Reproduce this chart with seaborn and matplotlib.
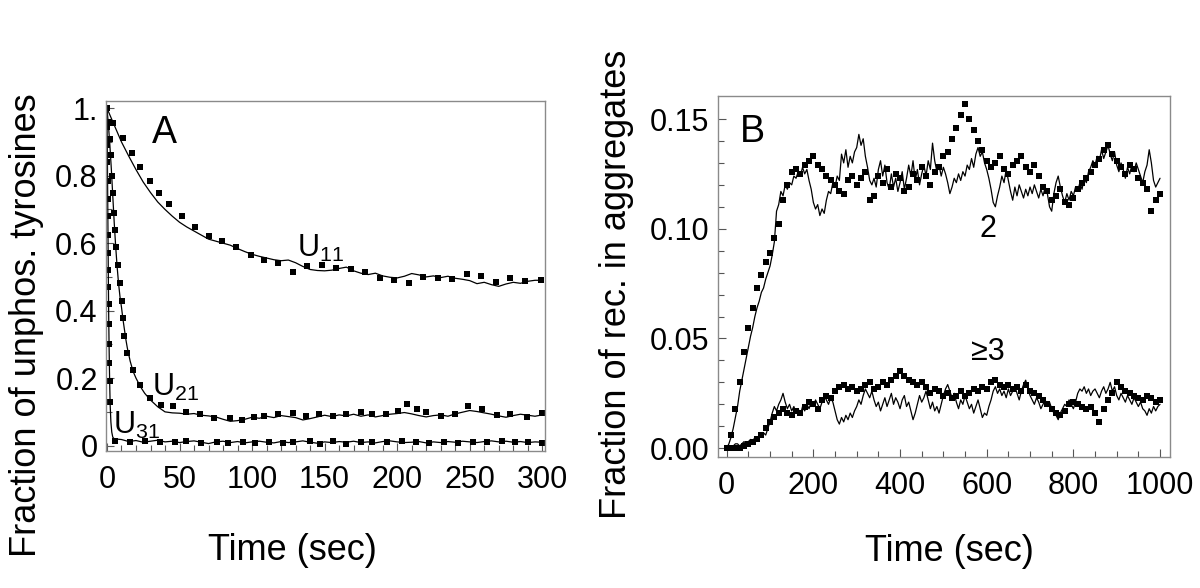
import numpy as np
import pandas as pd
import matplotlib.pyplot as plt
import seaborn as sns

# ---- panel A: fraction of unphosphorylated tyrosines ----
u11_line_t = list(range(0, 301, 5))
u11_line = [1.000, 0.950, 0.900, 0.858, 0.818, 0.781, 0.750, 0.722, 0.700, 0.680,
            0.662, 0.648, 0.636, 0.624, 0.612, 0.606, 0.600, 0.594, 0.584, 0.575,
            0.567, 0.561, 0.556, 0.551, 0.548, 0.550, 0.542, 0.531, 0.522, 0.519,
            0.518, 0.520, 0.525, 0.529, 0.518, 0.511, 0.507, 0.511, 0.503, 0.499,
            0.497, 0.502, 0.510, 0.506, 0.500, 0.503, 0.498, 0.502, 0.496, 0.493,
            0.489, 0.480, 0.484, 0.477, 0.472, 0.479, 0.484, 0.481, 0.487, 0.490,
            0.490]
u11_dot_t = [0, 4.4, 10.8, 17, 23, 29.6, 36, 43, 52, 61, 70, 79, 89, 99, 108, 118, 128,
             138, 148, 158, 168, 178, 188, 198, 208, 218, 228, 238, 248, 258, 268, 278, 288, 299]
u11_dot = [1.0, 0.957, 0.913, 0.868, 0.826, 0.783, 0.75, 0.715, 0.68, 0.648,
           0.622, 0.605, 0.59, 0.565, 0.55, 0.54, 0.515, 0.532, 0.535, 0.525,
           0.522, 0.515, 0.497, 0.492, 0.482, 0.500, 0.497, 0.495, 0.510, 0.503,
           0.485, 0.496, 0.488, 0.490]

u21_line_t = [0, 1, 2, 3, 4, 5, 6, 7, 8, 9, 10, 11, 12, 13, 14, 16, 18, 20, 23, 26, 30, 35] \
    + list(range(40, 301, 5))
u21_line = [1.0, 0.95, 0.89, 0.82, 0.74, 0.66, 0.59, 0.53, 0.48, 0.44, 0.41, 0.375,
            0.345, 0.315, 0.29, 0.25, 0.22, 0.20, 0.175, 0.155, 0.135, 0.115,
            0.100, 0.097, 0.096, 0.093, 0.095, 0.090, 0.088, 0.085, 0.078, 0.072,
            0.074, 0.078, 0.084, 0.081, 0.087, 0.083, 0.089, 0.086, 0.083, 0.076,
            0.080, 0.085, 0.090, 0.086, 0.091, 0.088, 0.093, 0.087, 0.091, 0.085,
            0.089, 0.093, 0.095, 0.098, 0.094, 0.089, 0.085, 0.089, 0.091, 0.087,
            0.094, 0.099, 0.104, 0.101, 0.097, 0.093, 0.088, 0.084, 0.089, 0.093,
            0.090, 0.087, 0.091]
u21_dot_t = [0, 1.1, 2.1, 2.8, 3.6, 4.4, 5.0, 5.6, 6.5, 7.6, 8.9, 10.1, 10.8, 11.7, 13.5,
             18, 22.7, 29.6, 37.5, 45.6, 54.8, 64, 74, 85, 93, 101, 108, 118, 128, 137,
             146, 156, 165, 175, 183, 192, 200.5, 207, 213.6, 220, 230, 240, 249, 258.6,
             268.6, 278, 289.5, 300]
u21_dot = [1.0, 0.96, 0.91, 0.86, 0.80, 0.75, 0.69, 0.64, 0.59, 0.535,
           0.483, 0.428, 0.379, 0.324, 0.275, 0.225, 0.181, 0.142, 0.119, 0.116,
           0.099, 0.095, 0.082, 0.082, 0.075, 0.085, 0.087, 0.093, 0.097, 0.089,
           0.093, 0.089, 0.093, 0.100, 0.093, 0.095, 0.102, 0.124, 0.107, 0.099,
           0.087, 0.094, 0.116, 0.107, 0.092, 0.094, 0.085, 0.097]

u31_line_t = [0, 0.2, 0.4, 0.6, 0.8, 1.0, 1.2, 1.5, 1.8, 2.2, 2.7, 3.3, 4.0] \
    + list(range(5, 301, 5))
u31_line = [1.0, 0.9, 0.79, 0.68, 0.57, 0.47, 0.38, 0.28, 0.20, 0.12, 0.07, 0.04, 0.025,
            0.020, 0.018, 0.012, 0.015, 0.010, 0.013, 0.016, 0.011, 0.013, 0.009,
            0.012, 0.014, 0.010, 0.006, 0.011, 0.013, 0.009, 0.012, 0.008, 0.011,
            0.013, 0.010, 0.008, 0.012, 0.009, 0.011, 0.014, 0.010, 0.007, 0.011,
            0.009, 0.012, 0.010, 0.013, 0.009, 0.011, 0.008, 0.012, 0.014, 0.011,
            0.009, 0.010, 0.012, 0.008, 0.011, 0.009, 0.012, 0.010, 0.013, 0.011,
            0.009, 0.012, 0.014, 0.011, 0.013, 0.010, 0.012, 0.009, 0.011, 0.010]
u31_dot_t = [0, 0.1, 0.2, 0.3, 0.4, 0.5, 0.6, 0.7, 0.8, 0.9, 1.0, 1.1, 1.25, 1.4, 1.6, 1.85,
             2.2, 5.5, 15.8, 26, 36.5, 46.8, 54.8, 65, 75.5, 83.5, 93.8, 102, 112, 121, 128,
             140, 147, 156, 165, 175, 183, 193, 203, 213, 222, 232, 242, 252, 262, 272, 281,
             290, 300]
u31_dot = [1.0, 0.945, 0.89, 0.84, 0.785, 0.73, 0.68, 0.625, 0.57, 0.52, 0.47, 0.42,
           0.36, 0.30, 0.245, 0.19, 0.13,
           0.015, 0.011, 0.015, 0.012, 0.012, 0.013, 0.009, 0.012, 0.009, 0.012,
           0.009, 0.012, 0.009, 0.010, 0.013, 0.006, 0.015, 0.006, 0.010, 0.010,
           0.012, 0.013, 0.010, 0.008, 0.011, 0.009, 0.012, 0.010, 0.013, 0.011,
           0.012, 0.007]

# ---- panel B: fraction of receptors in aggregates ----
b_line_t = np.arange(0, 1001, 5)
b_dot_t = np.arange(0, 1001, 10)
agg2_line = [0.000, 0.002, 0.005, 0.009, 0.014, 0.019, 0.026, 0.031, 0.036, 0.041,
             0.046, 0.051, 0.055, 0.060, 0.064, 0.067, 0.071, 0.073, 0.077, 0.080,
             0.083, 0.088, 0.094, 0.108, 0.111, 0.117, 0.115, 0.120, 0.118, 0.121,
             0.120, 0.124, 0.123, 0.126, 0.124, 0.128, 0.125, 0.127, 0.122, 0.118,
             0.112, 0.109, 0.111, 0.106, 0.109, 0.107, 0.113, 0.117, 0.116, 0.121,
             0.119, 0.124, 0.122, 0.134, 0.130, 0.136, 0.128, 0.133, 0.130, 0.135,
             0.137, 0.143, 0.138, 0.141, 0.133, 0.128, 0.122, 0.120, 0.123, 0.119,
             0.127, 0.131, 0.124, 0.129, 0.121, 0.118, 0.125, 0.119, 0.123, 0.117,
             0.121, 0.126, 0.118, 0.123, 0.129, 0.124, 0.131, 0.122, 0.127, 0.120,
             0.125, 0.129, 0.124, 0.131, 0.127, 0.139, 0.131, 0.126, 0.129, 0.124,
             0.128, 0.125, 0.121, 0.116, 0.119, 0.123, 0.121, 0.125, 0.122, 0.126,
             0.124, 0.129, 0.127, 0.132, 0.128, 0.134, 0.137, 0.133, 0.135, 0.130,
             0.127, 0.123, 0.118, 0.112, 0.110, 0.115, 0.119, 0.124, 0.121, 0.127,
             0.122, 0.117, 0.113, 0.119, 0.115, 0.120, 0.117, 0.114, 0.118, 0.115,
             0.119, 0.116, 0.120, 0.117, 0.114, 0.118, 0.115, 0.119, 0.116, 0.110,
             0.108, 0.116, 0.121, 0.124, 0.119, 0.115, 0.112, 0.116, 0.113, 0.117,
             0.115, 0.119, 0.117, 0.121, 0.118, 0.123, 0.121, 0.126, 0.128, 0.131,
             0.129, 0.133, 0.131, 0.136, 0.132, 0.135, 0.138, 0.134, 0.131, 0.135,
             0.129, 0.126, 0.130, 0.127, 0.123, 0.128, 0.125, 0.129, 0.126, 0.130,
             0.127, 0.124, 0.121, 0.126, 0.129, 0.136, 0.130, 0.122, 0.119, 0.121,
             0.123]
agg3_line = [0.000, 0.000, 0.001, 0.001, 0.002, 0.002, 0.001, 0.002, 0.003, 0.002,
             0.003, 0.004, 0.003, 0.005, 0.004, 0.006, 0.005, 0.007, 0.006, 0.009,
             0.012, 0.016, 0.019, 0.017, 0.020, 0.022, 0.025, 0.021, 0.018, 0.020,
             0.017, 0.019, 0.016, 0.018, 0.015, 0.019, 0.017, 0.020, 0.018, 0.021,
             0.019, 0.022, 0.020, 0.018, 0.021, 0.024, 0.022, 0.020, 0.023, 0.021,
             0.017, 0.013, 0.011, 0.014, 0.012, 0.015, 0.013, 0.016, 0.014, 0.017,
             0.019, 0.022, 0.020, 0.024, 0.027, 0.025, 0.023, 0.026, 0.022, 0.019,
             0.021, 0.017, 0.020, 0.023, 0.019, 0.022, 0.025, 0.020, 0.023, 0.021,
             0.018, 0.022, 0.024, 0.019, 0.021, 0.017, 0.013, 0.016, 0.020, 0.024,
             0.021, 0.023, 0.026, 0.022, 0.018, 0.021, 0.017, 0.019, 0.016, 0.020,
             0.024, 0.027, 0.029, 0.026, 0.023, 0.025, 0.021, 0.018, 0.022, 0.020,
             0.024, 0.021, 0.018, 0.020, 0.016, 0.019, 0.022, 0.018, 0.014, 0.016,
             0.015, 0.019, 0.022, 0.026, 0.028, 0.025, 0.027, 0.024, 0.026, 0.023,
             0.027, 0.024, 0.026, 0.028, 0.025, 0.022, 0.026, 0.029, 0.031, 0.027,
             0.024, 0.022, 0.020, 0.023, 0.021, 0.018, 0.020, 0.022, 0.019, 0.021,
             0.018, 0.016, 0.015, 0.013, 0.016, 0.018, 0.020, 0.019, 0.022, 0.020,
             0.018, 0.021, 0.025, 0.027, 0.026, 0.028, 0.025, 0.027, 0.024, 0.026,
             0.027, 0.025, 0.023, 0.026, 0.028, 0.025, 0.027, 0.030, 0.026, 0.028,
             0.024, 0.022, 0.025, 0.023, 0.021, 0.024, 0.022, 0.020, 0.023, 0.021,
             0.019, 0.021, 0.018, 0.017, 0.015, 0.018, 0.016, 0.019, 0.017, 0.019,
             0.020]
agg2_dot = [0.000, 0.006, 0.018, 0.030, 0.044, 0.055, 0.064, 0.073, 0.079, 0.085,
            0.089, 0.096, 0.102, 0.113, 0.120, 0.126, 0.127, 0.125, 0.129, 0.131,
            0.133, 0.129, 0.127, 0.124, 0.122, 0.120, 0.117, 0.116, 0.122, 0.124,
            0.120, 0.123, 0.126, 0.113, 0.115, 0.124, 0.121, 0.127, 0.119, 0.125,
            0.123, 0.117, 0.119, 0.125, 0.122, 0.128, 0.124, 0.120, 0.126, 0.128,
            0.133, 0.135, 0.141, 0.146, 0.152, 0.157, 0.150, 0.145, 0.140, 0.136,
            0.131, 0.128, 0.130, 0.133, 0.127, 0.125, 0.129, 0.131, 0.133, 0.128,
            0.126, 0.129, 0.124, 0.119, 0.117, 0.113, 0.115, 0.118, 0.112, 0.111,
            0.114, 0.118, 0.121, 0.123, 0.126, 0.129, 0.132, 0.136, 0.138, 0.134,
            0.131, 0.128, 0.125, 0.129, 0.127, 0.123, 0.121, 0.118, 0.108, 0.113,
            0.116]
agg3_dot = [0.000, 0.000, 0.000, 0.000, 0.001, 0.002, 0.003, 0.004, 0.006, 0.009,
            0.012, 0.014, 0.016, 0.018, 0.016, 0.015, 0.017, 0.016, 0.019, 0.021,
            0.020, 0.018, 0.022, 0.024, 0.023, 0.026, 0.028, 0.029, 0.027, 0.028,
            0.026, 0.027, 0.029, 0.030, 0.027, 0.028, 0.030, 0.029, 0.031, 0.033,
            0.035, 0.033, 0.031, 0.030, 0.029, 0.030, 0.028, 0.025, 0.027, 0.026,
            0.024, 0.025, 0.023, 0.024, 0.026, 0.024, 0.025, 0.027, 0.026, 0.028,
            0.027, 0.030, 0.031, 0.029, 0.028, 0.029, 0.027, 0.028, 0.026, 0.029,
            0.026, 0.025, 0.024, 0.022, 0.020, 0.018, 0.016, 0.015, 0.017, 0.020,
            0.021, 0.020, 0.019, 0.018, 0.019, 0.016, 0.012, 0.018, 0.022, 0.025,
            0.030, 0.028, 0.026, 0.025, 0.024, 0.023, 0.022, 0.024, 0.023, 0.021,
            0.022]

sns.set_style("white")
plt.rcParams['font.family'] = ['Liberation Sans', 'DejaVu Sans']
plt.rcParams['mathtext.fontset'] = 'custom'
plt.rcParams['mathtext.rm'] = 'Liberation Sans'
plt.rcParams['mathtext.default'] = 'rm'
plt.rcParams['text.color'] = 'black'
plt.rcParams['axes.labelcolor'] = 'black'

fig = plt.figure(figsize=(12, 5.88), dpi=100)
axA = fig.add_axes([0.0883, 0.233, 0.366, 0.595])
axB = fig.add_axes([0.598, 0.2228, 0.377, 0.614])

lw = 0.9
msz = 13
for t, y in [(u11_line_t, u11_line), (u21_line_t, u21_line), (u31_line_t, u31_line)]:
    sns.lineplot(x=t, y=y, ax=axA, color='black', lw=lw, estimator=None, sort=False)
for t, y in [(u11_dot_t, u11_dot), (u21_dot_t, u21_dot), (u31_dot_t, u31_dot)]:
    sns.scatterplot(x=t, y=y, ax=axA, color='black', marker='s', s=msz, linewidth=0)

for y in [agg2_line, agg3_line]:
    sns.lineplot(x=b_line_t, y=y, ax=axB, color='black', lw=lw, estimator=None, sort=False)
for y in [agg2_dot, agg3_dot]:
    sns.scatterplot(x=b_dot_t, y=y, ax=axB, color='black', marker='s', s=msz, linewidth=0)

axA.set_xlim(-0.7, 302)
axA.set_ylim(-0.016, 1.021)
axA.set_xticks(range(0, 301, 50))
axA.set_xticks(range(0, 301, 10), minor=True)
axA.set_yticks([0, 0.2, 0.4, 0.6, 0.8, 1.0], ['0', '0.2', '0.4', '0.6', '0.8', '1.'])
axA.set_yticks(np.arange(0, 1.01, 0.1), minor=True)

axB.set_xlim(-21, 1023)
axB.set_ylim(-0.004, 0.1605)
axB.set_xticks(range(0, 1001, 200))
axB.set_xticks(range(0, 1001, 50), minor=True)
axB.set_yticks([0, 0.05, 0.10, 0.15], ['0.00', '0.05', '0.10', '0.15'])
axB.set_yticks(np.arange(0, 0.155, 0.01), minor=True)

for ax in (axA, axB):
    for sp in ax.spines.values():
        sp.set_color('#8a8a8a')
        sp.set_linewidth(1.0)
    ax.tick_params(which='both', direction='in', top=False, right=False,
                   bottom=True, left=True, color='#555555', width=0.8,
                   labelcolor='black')
    ax.tick_params(which='major', length=6, labelsize=22)
    ax.tick_params(which='minor', length=4)
    ax.tick_params(axis='x', which='major', pad=10)
    ax.tick_params(axis='y', which='major', pad=6)

axA.set_xlabel('Time (sec)', fontsize=26)
axA.set_ylabel('Fraction of unphos. tyrosines', fontsize=26)
axB.set_xlabel('Time (sec)', fontsize=26)
axB.set_ylabel('Fraction of rec. in aggregates', fontsize=26)
axA.xaxis.set_label_coords(0.424, -0.235)
axA.yaxis.set_label_coords(-0.14, 0.36)
axB.xaxis.set_label_coords(0.513, -0.212)
axB.yaxis.set_label_coords(-0.185, 0.478)

axA.text(0.132, 0.909, 'A', transform=axA.transAxes, fontsize=27, ha='center', va='center')
axB.text(0.077, 0.90, 'B', transform=axB.transAxes, fontsize=27, ha='center', va='center')
axA.text(131, 0.56, 'U$_{11}$', fontsize=22, ha='left', va='baseline')
axA.text(30.8, 0.148, 'U$_{21}$', fontsize=22, ha='left', va='baseline')
axA.text(4.1, 0.036, 'U$_{31}$', fontsize=22, ha='left', va='baseline')
axB.text(603, 0.0962, '2', fontsize=22, ha='center', va='baseline')
axB.text(603, 0.040, '\u22653', fontsize=22, ha='center', va='baseline')

fig.savefig('out.png', dpi=100)
